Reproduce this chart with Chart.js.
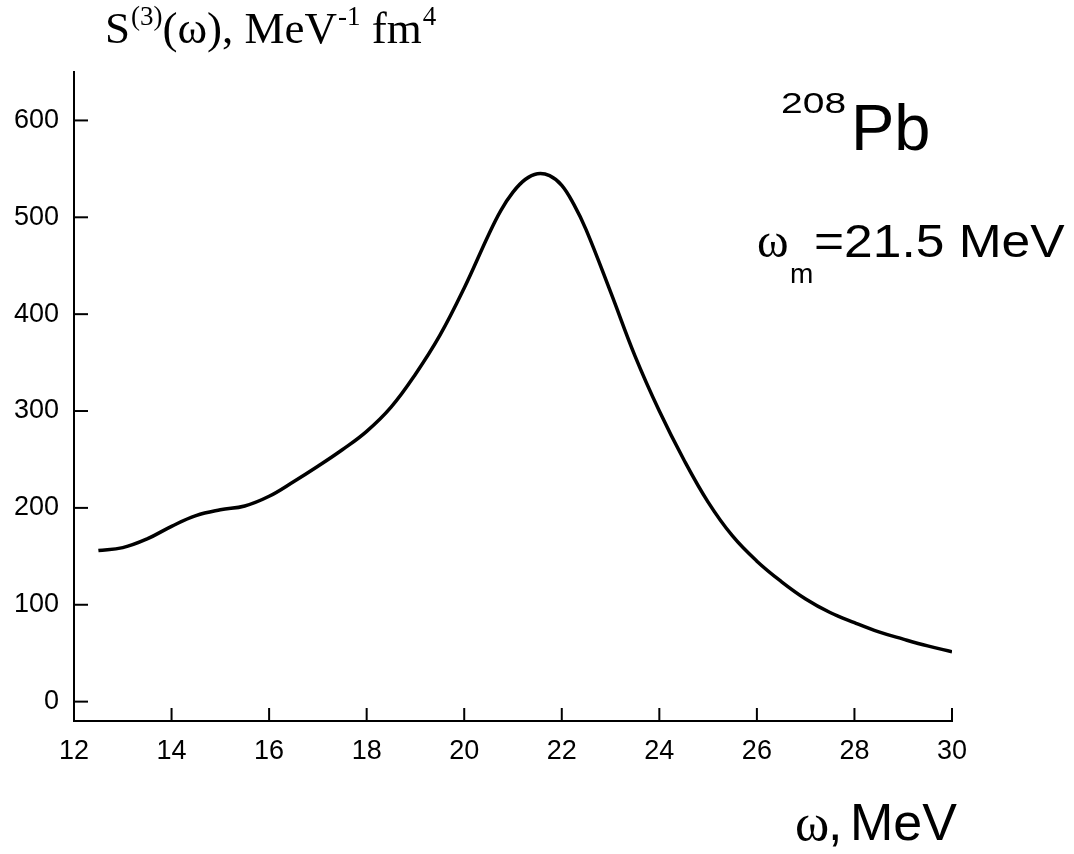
<!DOCTYPE html>
<html>
<head>
<meta charset="utf-8">
<script src="https://cdn.jsdelivr.net/npm/chart.js@4"></script>
<style>
html,body{margin:0;padding:0;background:#fff;}
canvas{display:block;}
</style>
</head>
<body>
<canvas id="c" width="1074" height="854"></canvas>
<script>
// Data
const omega = [12.5,13,13.5,14,14.5,15,15.5,16,16.5,17,17.5,18,18.5,19,19.5,20,20.5,20.75,21,21.25,21.5,21.75,22,22.25,22.5,23,23.5,24,24.5,25,25.5,26,26.5,27,27.5,28,28.5,29,29.5,30];
const strength = [156,159,168,181,192,198,202,212,227,243,260,279,304,338,378,427,482,507,526,539,545,543,533,513,487,423,357,300,250,206,171,145,124,106,92,81.5,72,64.5,57.5,51.5];
const xTicks = [12,14,16,18,20,22,24,26,28,30];
const yTicks = [0,100,200,300,400,500,600];

const points = omega.map((w,i)=>({x:w,y:strength[i]}));

function stretched(ctx, text, x, y, sx){
  ctx.save();
  ctx.translate(x, y);
  ctx.scale(sx, 1);
  ctx.fillText(text, 0, 0);
  ctx.restore();
}

const decor = {
  id:'decor',
  afterDraw(chart){
    const ctx = chart.ctx;
    const xs = chart.scales.x, ys = chart.scales.y;
    const ca = chart.chartArea;
    ctx.save();
    ctx.strokeStyle = '#000';
    ctx.lineWidth = 2;
    yTicks.forEach(v=>{
      const py = ys.getPixelForValue(v);
      ctx.beginPath(); ctx.moveTo(ca.left, py); ctx.lineTo(ca.left+14, py); ctx.stroke();
    });
    xTicks.forEach(v=>{
      const px = xs.getPixelForValue(v);
      ctx.beginPath(); ctx.moveTo(px, ca.bottom); ctx.lineTo(px, ca.bottom-13); ctx.stroke();
    });
    ctx.fillStyle = '#000';
    ctx.textBaseline = 'alphabetic';
    ctx.textAlign = 'left';
    // Title
    let x = 105;
    const big = '45px "Liberation Serif"', sup = '27px "Liberation Serif"';
    ctx.font = big;
    ctx.fillText('S', x, 43); x += ctx.measureText('S').width;
    ctx.font = sup;
    ctx.fillText('(3)', x+1, 25); x += ctx.measureText('(3)').width+1;
    ctx.font = big;
    ctx.fillText('(\u03c9), MeV', x, 43); x += ctx.measureText('(\u03c9), MeV').width;
    ctx.font = sup;
    ctx.fillText('-1', x+1, 25); x += ctx.measureText('-1').width+1;
    ctx.font = big;
    ctx.fillText(' fm', x, 43); x += ctx.measureText(' fm').width;
    ctx.font = sup;
    ctx.fillText('4', x+1, 25);
    // 208Pb
    ctx.font = '30px "Liberation Sans"';
    stretched(ctx, '208', 781, 113, 1.3);
    ctx.font = '65px "Liberation Sans"';
    ctx.fillText('Pb', 851, 150);
    // omega_m
    ctx.font = '48px "Liberation Serif"';
    ctx.fillText('\u03c9', 757, 257);
    ctx.font = '28px "Liberation Sans"';
    ctx.fillText('m', 790, 283);
    ctx.font = '46px "Liberation Sans"';
    stretched(ctx, '=21.5 MeV', 814, 257, 1.12);
    // x axis title
    ctx.font = '52px "Liberation Serif"';
    ctx.fillText('\u03c9', 795, 840);
    ctx.font = '52px "Liberation Sans"';
    ctx.fillText(',', 828, 840);
    ctx.fillText('MeV', 850, 840);
    ctx.restore();
  }
};

new Chart(document.getElementById('c'), {
  type:'line',
  data:{datasets:[{
    data:points,
    borderColor:'#000',
    borderWidth:3.5,
    pointRadius:0,
    fill:false,
    tension:0.4
  }]},
  options:{
    responsive:false,
    animation:false,
    devicePixelRatio:1,
    layout:{padding:{top:72,right:122,left:0,bottom:0}},
    plugins:{legend:{display:false},tooltip:{enabled:false}},
    scales:{
      x:{
        type:'linear', min:12, max:30,
        afterBuildTicks(s){ s.ticks = xTicks.map(v=>({value:v})); },
        afterFit(s){ s.height = 133; },
        grid:{display:true, drawOnChartArea:false, drawTicks:false},
        border:{display:true,color:'#000',width:2},
        ticks:{color:'#000',font:{family:'Liberation Sans',size:27},padding:14,maxRotation:0,autoSkip:false}
      },
      y:{
        type:'linear', min:-20, max:650,
        afterBuildTicks(s){ s.ticks = yTicks.map(v=>({value:v})); },
        afterFit(s){ s.width = 74; },
        grid:{display:true, drawOnChartArea:false, drawTicks:false},
        border:{display:true,color:'#000',width:2},
        ticks:{color:'#000',font:{family:'Liberation Sans',size:27},padding:15,autoSkip:false}
      }
    }
  },
  plugins:[decor]
});
</script>
</body>
</html>
